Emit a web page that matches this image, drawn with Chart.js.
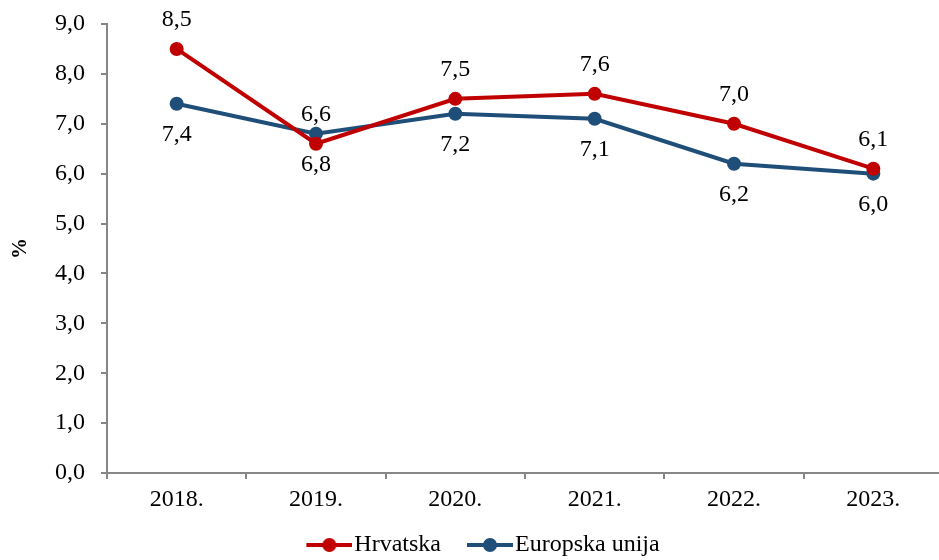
<!DOCTYPE html>
<html>
<head>
<meta charset="utf-8">
<script src="https://cdn.jsdelivr.net/npm/chart.js@4.4.0/dist/chart.umd.min.js"></script>
<style>
  html, body { margin: 0; padding: 0; background: #fff; overflow: hidden; }
  #wrap { width: 950px; height: 560px; }
</style>
</head>
<body>
<div id="wrap"><canvas id="myChart"></canvas></div>
<script>
// values
var years = ["2018.", "2019.", "2020.", "2021.", "2022.", "2023."];
var hrvatska = [8.5, 6.6, 7.5, 7.6, 7.0, 6.1];
var europskaUnija = [7.4, 6.8, 7.2, 7.1, 6.2, 6.0];
var yTicks = [0, 1, 2, 3, 4, 5, 6, 7, 8, 9];

var RED = "#C00000";
var BLUE = "#1F4E79";
var FONT = "'Liberation Serif', 'Times New Roman', serif";

function comma(v) {
    return Number(v).toFixed(1).replace(".", ",");
}

// small line + dot picture for the legend (blank strip on the left = gap between items)
function legendMark(color) {
    var c = document.createElement("canvas");
    c.width = 72;
    c.height = 16;
    var g = c.getContext("2d");
    g.strokeStyle = color;
    g.lineWidth = 4;
    g.beginPath();
    g.moveTo(26, 8);
    g.lineTo(72, 8);
    g.stroke();
    g.fillStyle = color;
    g.beginPath();
    g.arc(49, 8, 7, 0, Math.PI * 2);
    g.fill();
    return c;
}

// numbers above red points, below blue points
var valueLabels = {
    id: "valueLabels",
    afterDatasetsDraw: function(chart) {
        var ctx = chart.ctx;
        ctx.save();
        ctx.font = "24px " + FONT;
        ctx.fillStyle = "#000";
        ctx.textAlign = "center";
        ctx.textBaseline = "middle";
        chart.data.datasets.forEach(function(ds, i) {
            var meta = chart.getDatasetMeta(i);
            var off = i === 0 ? -29 : 31;
            meta.data.forEach(function(pt, j) {
                ctx.fillText(comma(ds.data[j]), pt.x, pt.y + off);
            });
        });
        ctx.restore();
    }
};

var marks = [legendMark(RED), legendMark(BLUE)];

const myChart = new Chart("myChart", {
    type: "line",
    data: {
        labels: years,
        datasets: [{
            label: "Hrvatska",
            data: hrvatska,
            borderColor: RED,
            backgroundColor: RED,
            borderWidth: 4,
            pointRadius: 7,
            pointHoverRadius: 7,
            pointBackgroundColor: RED,
            pointBorderWidth: 0,
            tension: 0
        }, {
            label: "Europska unija",
            data: europskaUnija,
            borderColor: BLUE,
            backgroundColor: BLUE,
            borderWidth: 4,
            pointRadius: 7,
            pointHoverRadius: 7,
            pointBackgroundColor: BLUE,
            pointBorderWidth: 0,
            tension: 0
        }]
    },
    options: {
        responsive: true,
        maintainAspectRatio: false,
        animation: false,
        layout: { padding: { top: 24, right: 0, bottom: -7, left: 0 } },
        plugins: {
            tooltip: { enabled: false },
            legend: {
                position: "bottom",
                labels: {
                    font: { family: FONT, size: 24 },
                    color: "#000",
                    usePointStyle: true,
                    pointStyleWidth: 52,
                    padding: 10,
                    generateLabels: function(chart) {
                        return chart.data.datasets.map(function(ds, i) {
                            return {
                                text: ds.label,
                                pointStyle: marks[i],
                                fillStyle: ds.borderColor,
                                strokeStyle: ds.borderColor,
                                lineWidth: 0,
                                fontColor: "#000",
                                datasetIndex: i
                            };
                        });
                    }
                }
            }
        },
        scales: {
            x: {
                offset: true,
                grid: {
                    offset: true,
                    drawOnChartArea: false,
                    drawTicks: true,
                    tickLength: 6,
                    color: "#868686",
                    lineWidth: 2
                },
                border: { display: true, color: "#868686", width: 2 },
                ticks: {
                    font: { family: FONT, size: 24 },
                    color: "#000",
                    padding: 6,
                    maxRotation: 0
                },
                afterFit: function(s) {
                    s.height = 50;
                    s.paddingLeft = 0;
                    s.paddingRight = 0;
                }
            },
            y: {
                min: 0,
                max: 9,
                afterBuildTicks: function(s) {
                    s.ticks = yTicks.map(function(v) { return { value: v }; });
                },
                grid: {
                    drawOnChartArea: false,
                    drawTicks: true,
                    tickLength: 6,
                    color: "#868686",
                    lineWidth: 2
                },
                border: { display: true, color: "#868686", width: 2 },
                ticks: {
                    font: { family: FONT, size: 24 },
                    color: "#000",
                    padding: 16,
                    callback: function(v) { return comma(v); }
                },
                title: {
                    display: true,
                    text: "%",
                    font: { family: FONT, size: 21, weight: "bold" },
                    color: "#000",
                    padding: 8
                },
                afterFit: function(s) {
                    s.width = 107;
                    s.paddingTop = 0;
                    s.paddingBottom = 0;
                }
            }
        }
    },
    plugins: [valueLabels]
});
</script>
</body>
</html>
